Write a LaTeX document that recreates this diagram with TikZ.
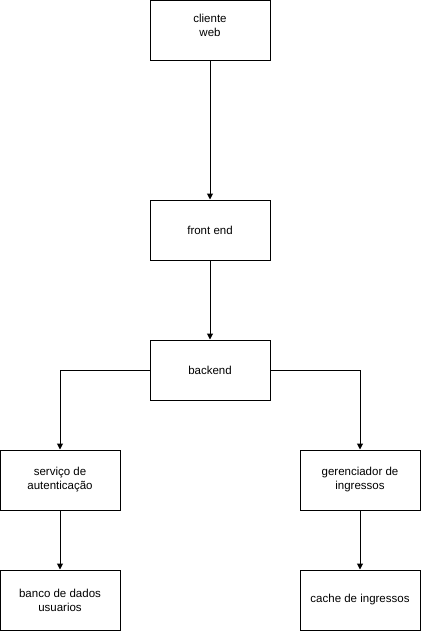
\documentclass[tikz,border=0pt]{standalone}
\usepackage{fontspec}
\setmainfont{Liberation Sans}
\usetikzlibrary{arrows.meta}
\begin{document}
\begin{tikzpicture}[x=1pt,y=-1pt,
  lbl/.style={align=center,inner sep=0pt,font=\fontsize{11.5pt}{14pt}\selectfont},
  box/.style={draw=black,line width=1pt,fill=white,minimum width=120pt,minimum height=60pt,inner sep=0pt,lbl},
  conn/.style={draw=black,line width=1pt,-{Triangle[length=6pt,width=6pt]}}]
\useasboundingbox (0,0) rectangle (421,631);
\node[box] (cliente) at (210,30.5) {};
\node[lbl] (clientetxt) at (210,25) {cliente\\web};
\node[box] (front) at (210,230) {front end};
\node[box] (back) at (210,370) {backend};
\node[box] (serv) at (60,480) {serviço de\\autenticação};
\node[box] (ger) at (360,480) {gerenciador de\\ingressos};
\node[box] (banco) at (60,600) {banco de dados\\usuarios};
\node[box] (cache) at (360,600) {cache de ingressos};
\draw[conn] (cliente) -- (front);
\draw[conn] (front) -- (back);
\draw[conn] (back.west) -| (serv.north);
\draw[conn] (back.east) -| (ger.north);
\draw[conn] (serv) -- (banco);
\draw[conn] (ger) -- (cache);
\end{tikzpicture}
\end{document}
